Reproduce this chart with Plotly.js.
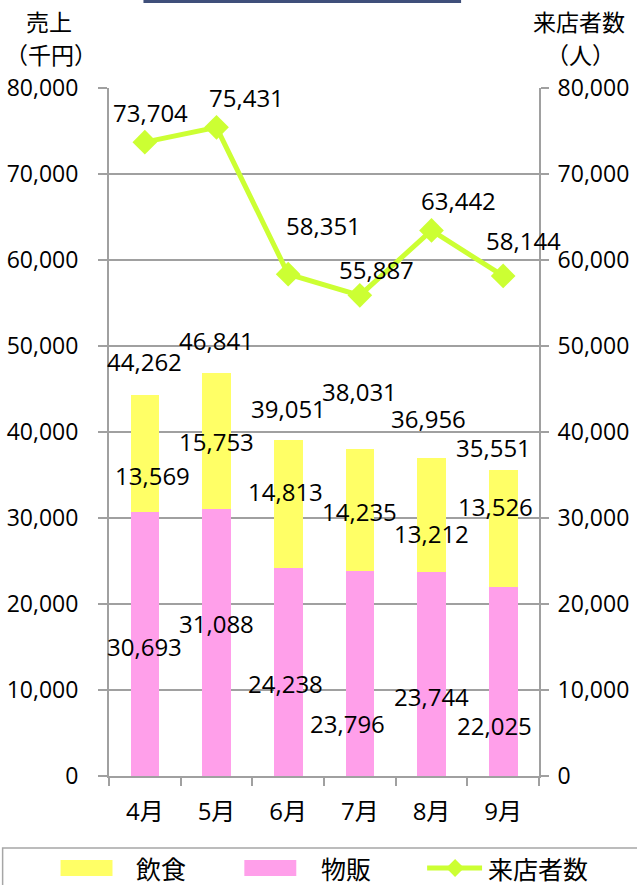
<!DOCTYPE html>
<html>
<head>
<meta charset="utf-8">
<script src="https://cdn.plot.ly/plotly-3.0.1.min.js"></script>
<style>html,body{margin:0;padding:0;background:#fff;}#chart{width:637px;height:885px;}</style>
</head>
<body>
<div id="chart"></div>
<script>
// ---- data ----
const months = ["4月", "5月", "6月", "7月", "8月", "9月"];
const buppan = [30693, 31088, 24238, 23796, 23744, 22025];   // 物販
const inshoku = [13569, 15753, 14813, 14235, 13212, 13526];  // 飲食
const visitors = [73704, 75431, 58351, 55887, 63442, 58144]; // 来店者数
const seriesNames = ["飲食", "物販", "来店者数"];
const yTicks = [0, 10000, 20000, 30000, 40000, 50000, 60000, 70000, 80000];
const leftTitle = ["売上", "（千円）"];
const rightTitle = ["来店者数", "（人）"];

// ---- label offsets (px, style only) ----
const pinkOff = [[0,-2],[0,19],[-3,-12],[-12,-50],[0,-23],[-9,-44]];
const yelOff  = [[8,-22],[0,-1],[-3,12],[0,-1],[0,-19],[-8,22]];
const totOff  = [[0,34],[0,33],[0,32],[0,57],[-3,40],[-10,23]];
const lineOff = [[6,30],[30,30],[35,49],[17,26],[27,30],[20,35]];

const NUM = "Open Sans, Noto Sans CJK JP, sans-serif";
const CJK = "Noto Sans CJK JP, sans-serif";
const fmt = v => v.toLocaleString("en-US");

const totals = buppan.map((v, i) => v + inshoku[i]);

const traces = [
  {type: "bar", name: seriesNames[1], x: months, y: buppan,
   marker: {color: "#FF9FEA"}, width: 0.4, showlegend: false, hoverinfo: "skip"},
  {type: "bar", name: seriesNames[0], x: months, y: inshoku,
   marker: {color: "#FFFF66"}, width: 0.4, showlegend: false, hoverinfo: "skip"},
  {type: "scatter", mode: "lines+markers", name: seriesNames[2], x: months, y: visitors,
   yaxis: "y2", line: {color: "#CCFF33", width: 5},
   marker: {symbol: "diamond", size: 19, color: "#CCFF33"}, showlegend: false, hoverinfo: "skip"}
];

const ann = [];
const lab = (x, y, t, off, yref) => ann.push({x: x, y: y, xref: "x", yref: yref || "y",
  text: t, showarrow: false, xshift: off[0], yshift: off[1],
  font: {family: NUM, size: 24, color: "#000"}});
months.forEach((m, i) => {
  lab(m, buppan[i] / 2, fmt(buppan[i]), pinkOff[i]);
  lab(m, buppan[i] + inshoku[i] / 2, fmt(inshoku[i]), yelOff[i]);
  lab(m, totals[i], fmt(totals[i]), totOff[i]);
  lab(m, visitors[i], fmt(visitors[i]), lineOff[i], "y2");
});

// paper mapping: px -> paper
const L = 108.5, R = 539, T = 88, B = 776;
const px = v => (v - L) / (R - L);
const py = v => (B - v) / (B - T);

const pann = (x, y, t, xa, sz) => ann.push({x: x, y: y, xref: "paper", yref: "paper", text: t,
  showarrow: false, xanchor: xa || "center", yanchor: "middle",
  font: {family: CJK, size: sz || 23, color: "#000"}});
// axis titles
pann(px(48), py(20.5), leftTitle[0]);
pann(px(50), py(54.5), leftTitle[1]);
pann(px(579), py(20.5), rightTitle[0]);
pann(px(581), py(54.5), rightTitle[1]);

// custom legend
pann(px(134), py(868), seriesNames[0], "left", 25);
pann(px(319), py(868), seriesNames[1], "left", 25);
pann(px(486), py(868), seriesNames[2], "left", 25);

const shapes = [
  // partial title box at top
  {type: "line", xref: "paper", yref: "paper", x0: px(143), x1: px(461), y0: py(1.5), y1: py(1.5),
   line: {color: "#3F4F7A", width: 3}},
  // legend border
  {type: "rect", xref: "paper", yref: "paper", x0: px(2), x1: px(660), y0: py(848), y1: py(900),
   line: {color: "#A6A6A6", width: 1.5}, fillcolor: "rgba(0,0,0,0)"},
  // legend swatches
  {type: "rect", xref: "paper", yref: "paper", x0: px(60), x1: px(112), y0: py(876), y1: py(860),
   line: {width: 0}, fillcolor: "#FFFF66"},
  {type: "rect", xref: "paper", yref: "paper", x0: px(244), x1: px(296), y0: py(876), y1: py(860),
   line: {width: 0}, fillcolor: "#FF9FEA"},
  {type: "line", xref: "paper", yref: "paper", x0: px(427), x1: px(482), y0: py(868), y1: py(868),
   line: {color: "#CCFF33", width: 5}},
  {type: "path", xref: "paper", yref: "paper",
   path: `M${px(446)},${py(868)} L${px(455)},${py(859)} L${px(464)},${py(868)} L${px(455)},${py(877)} Z`,
   line: {width: 0}, fillcolor: "#CCFF33"}
];

const gray = "#A0A0A0";
const tf = {family: NUM, size: 23, color: "#000"};
const layout = {
  width: 637, height: 885,
  margin: {l: L, r: 637 - R, t: T, b: 885 - B, pad: 0, autoexpand: false},
  paper_bgcolor: "#fff", plot_bgcolor: "#fff",
  barmode: "stack", showlegend: false,
  xaxis: {type: "category", range: [-0.5, 5.5], automargin: false, showline: true, linecolor: gray, linewidth: 2,
    ticks: "outside", tickson: "boundaries", ticklen: 8, tickwidth: 2, tickcolor: gray,
    showgrid: false, tickfont: {family: NUM, size: 24, color: "#000"}, ticklabelstandoff: 13},
  yaxis: {range: [0, 80000], automargin: false, tickvals: yTicks, tickformat: ",d", showline: true, linecolor: gray, linewidth: 2,
    ticks: "outside", ticklen: 9, tickwidth: 2, tickcolor: gray, gridcolor: gray, gridwidth: 2,
    zeroline: false, tickfont: tf, ticklabelstandoff: 15},
  yaxis2: {range: [0, 80000], automargin: false, tickvals: yTicks, tickformat: ",d", overlaying: "y", side: "right",
    showline: true, linecolor: gray, linewidth: 2, ticks: "outside", ticklen: 8, tickwidth: 2,
    tickcolor: gray, showgrid: false, zeroline: false, tickfont: tf, ticklabelstandoff: 4},
  annotations: ann,
  shapes: shapes
};

Plotly.newPlot("chart", traces, layout, {staticPlot: true});
</script>
</body>
</html>
